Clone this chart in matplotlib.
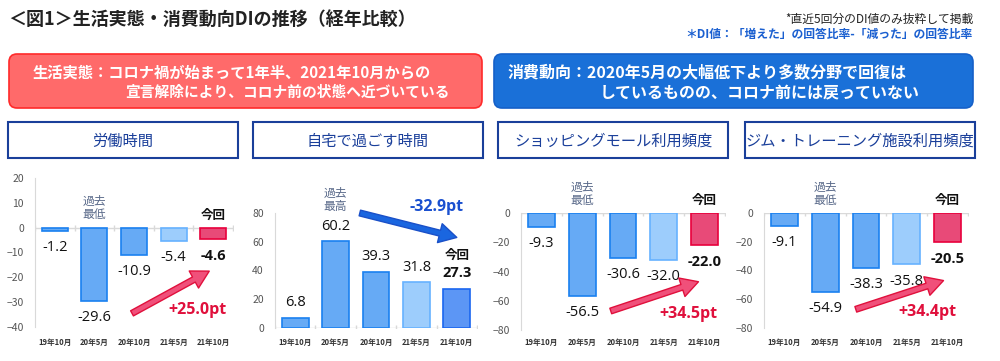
#!/usr/bin/env python3
import matplotlib
matplotlib.use('Agg')
import matplotlib.pyplot as plt
from matplotlib.patches import FancyBboxPatch, Rectangle

plt.rcParams['font.family'] = ['Noto Sans CJK JP', 'DejaVu Sans']

# ---- data ----
periods = ['19年10月', '20年5月', '20年10月', '21年5月', '21年10月']
titles = ['労働時間', '自宅で過ごす時間', 'ショッピングモール利用頻度', 'ジム・トレーニング施設利用頻度']
labor_hours = [-1.2, -29.6, -10.9, -5.4, -4.6]
home_time = [6.8, 60.2, 39.3, 31.8, 27.3]
mall_freq = [-9.3, -56.5, -30.6, -32.0, -22.0]
gym_freq = [-9.1, -54.9, -38.3, -35.8, -20.5]
series = [labor_hours, home_time, mall_freq, gym_freq]
changes = ['+25.0pt', '-32.9pt', '+34.5pt', '+34.4pt']
notes = ['過去\n最低', '過去\n最高', '過去\n最低', '過去\n最低']
yticks = [[20, 10, 0, -10, -20, -30, -40], [0, 20, 40, 60, 80],
          [0, -20, -40, -60, -80], [0, -20, -40, -60, -80]]
ylims = [(-40, 20), (0, 80), (-80, 0), (-80, 0)]

W, H = 1000, 361
fig = plt.figure(figsize=(W / 100, H / 100), dpi=100)

# background layer in pixel coordinates
bg = fig.add_axes([0, 0, 1, 1])
bg.set_xlim(0, W)
bg.set_ylim(H, 0)
bg.axis('off')

bg.text(8, 19, '＜図1＞生活実態・消費動向DIの推移（経年比較）', fontsize=13,
        fontweight='bold', color='#222222', va='center', ha='left')
bg.text(973, 19, '*直近5回分のDI値のみ抜粋して掲載', fontsize=8.5,
        color='#222222', va='center', ha='right')
bg.text(973, 34, '＊DI値：「増えた」の回答比率-「減った」の回答比率', fontsize=8.5,
        color='#1a5fd0', fontweight='bold', va='center', ha='right')

bg.add_patch(FancyBboxPatch((9, 54), 473, 54, boxstyle='round,pad=0,rounding_size=8',
                            fc='#ff6a6a', ec='#ff2a2a', lw=1.2))
bg.add_patch(FancyBboxPatch((494, 54), 479, 54, boxstyle='round,pad=0,rounding_size=8',
                            fc='#1a70d8', ec='#1560c8', lw=1.2))
bg.text(33, 72, '生活実態：コロナ禍が始まって1年半、2021年10月からの', fontsize=11,
        fontweight='bold', color='white', va='center', ha='left')
bg.text(125, 92, '宣言解除により、コロナ前の状態へ近づいている', fontsize=10.6,
        fontweight='bold', color='white', va='center', ha='left')
bg.text(508, 72, '消費動向：2020年5月の大幅低下より多数分野で回復は', fontsize=11.5,
        fontweight='bold', color='white', va='center', ha='left')
bg.text(600, 92, 'しているものの、コロナ前には戻っていない', fontsize=11.5,
        fontweight='bold', color='white', va='center', ha='left')

box_x = [(8, 238), (253, 483), (498, 728), (745, 975)]
for (x0, x1), t in zip(box_x, titles):
    bg.add_patch(Rectangle((x0, 122), x1 - x0, 36, fc='white', ec='#1a3f9a', lw=1.5))
    bg.text((x0 + x1) / 2, 141, t, fontsize=11, color='#1a3f9a',
            va='center', ha='center')

# chart axes: (left px, right px, top px, bottom px)
boxes = [(35, 233, 178, 327), (275, 477, 213, 328), (521, 725, 213, 330), (764, 968, 213, 328)]
fills = ['#66aaf5', '#66aaf5', '#66aaf5', '#9dcdfc']
edges = ['#1a80f0', '#1a80f0', '#1a80f0', '#66b2ff']
arrows = [((1.95, -34.5), (3.9, -17.5)), ((1.6, 80), (4.0, 63)),
          ((1.7, -67), (3.85, -47)), ((1.75, -67), (3.9, -47))]
change_pos = [(3.6, -33), (3.5, 84), (3.6, -69), (3.5, -69)]

for i, vals in enumerate(series):
    l, r, t, b = boxes[i]
    ax = fig.add_axes([l / W, (H - b) / H, (r - l) / W, (b - t) / H])
    ax.patch.set_alpha(0)
    x = list(range(len(periods)))
    fc = list(fills)
    ec = list(edges)
    if i == 1:
        fc.append('#5c96f5')
        ec.append('#1a66f0')
    else:
        fc.append('#e84a78')
        ec.append('#e8003c')
    ax.bar(x, vals, width=0.66, color=fc, edgecolor=ec, linewidth=1.2, zorder=3)
    ax.set_xlim(-0.5, 4.5)
    ax.set_ylim(*ylims[i])
    ax.set_yticks(yticks[i])
    ax.tick_params(axis='y', length=0, labelsize=7.5, labelcolor='#555555', pad=8)
    for s in ['top', 'right', 'bottom']:
        ax.spines[s].set_visible(False)
    ax.spines['left'].set_color('#d9d9d9')
    ax.axhline(0, color='#d9d9d9', lw=1, zorder=1)
    for k in range(6):
        ax.plot([k - 0.5], [0], marker='|', color='#d9d9d9', ms=4, zorder=1)
    ax.set_xticks(x)
    ax.set_xticklabels(periods, fontweight='bold')
    ax.tick_params(axis='x', length=0, labelsize=5.5, labelcolor='#333333')

    for k, v in enumerate(vals):
        last = k == len(vals) - 1
        off = 11 if v > 0 else -12
        ax.annotate(f'{v:.1f}', (k, v), xytext=(0, off), textcoords='offset points',
                    ha='center', va='center', fontsize=10.5,
                    fontweight='bold' if last else 'normal', color='#111111', zorder=5,
                    family=['Open Sans', 'DejaVu Sans'])
    # 今回 / 過去 markers
    if i == 1:
        ax.annotate('今回', (4, vals[4]), xytext=(0, 24), textcoords='offset points',
                    ha='center', va='center', fontsize=9, fontweight='bold', color='#111111')
        ax.annotate(notes[i], (1, vals[1]), xytext=(0, 30), textcoords='offset points',
                    ha='center', va='center', fontsize=8.5, color='#5a6a8a', linespacing=1.0)
    else:
        ax.annotate('今回', (4, 0), xytext=(0, 9), textcoords='offset points',
                    ha='center', va='center', fontsize=9, fontweight='bold', color='#111111')
        ax.annotate(notes[i], (1, 0), xytext=(0, 14), textcoords='offset points',
                    ha='center', va='center', fontsize=8.5, color='#5a6a8a', linespacing=1.0)

    (x0, y0), (x1, y1) = arrows[i]
    col_fc = '#1a66e0' if i == 1 else '#f0507a'
    col_ec = '#1a50c8' if i == 1 else '#e0103c'
    ax.annotate('', xy=(x1, y1), xytext=(x0, y0), zorder=6,
                arrowprops=dict(arrowstyle='simple,head_length=0.9,head_width=1.0,tail_width=0.3',
                                fc=col_fc, ec=col_ec, lw=1, mutation_scale=14,
                                shrinkA=0, shrinkB=0))
    cx, cy = change_pos[i]
    ax.text(cx, cy, changes[i], ha='center', va='center', fontsize=11.5,
            fontweight='bold', color='#1a50d0' if i == 1 else '#e0103c',
            family=['Open Sans', 'DejaVu Sans'], zorder=6)

# put the x tick labels on a common baseline near the figure bottom
for ax in fig.axes[1:]:
    l, b_, w_, h_ = ax.get_position().bounds
    px_bottom = (1 - b_) * H
    ax.tick_params(axis='x', pad=max(0, (342 - px_bottom) * 72 / 100 - 3))

plt.savefig('out.png', dpi=100)
